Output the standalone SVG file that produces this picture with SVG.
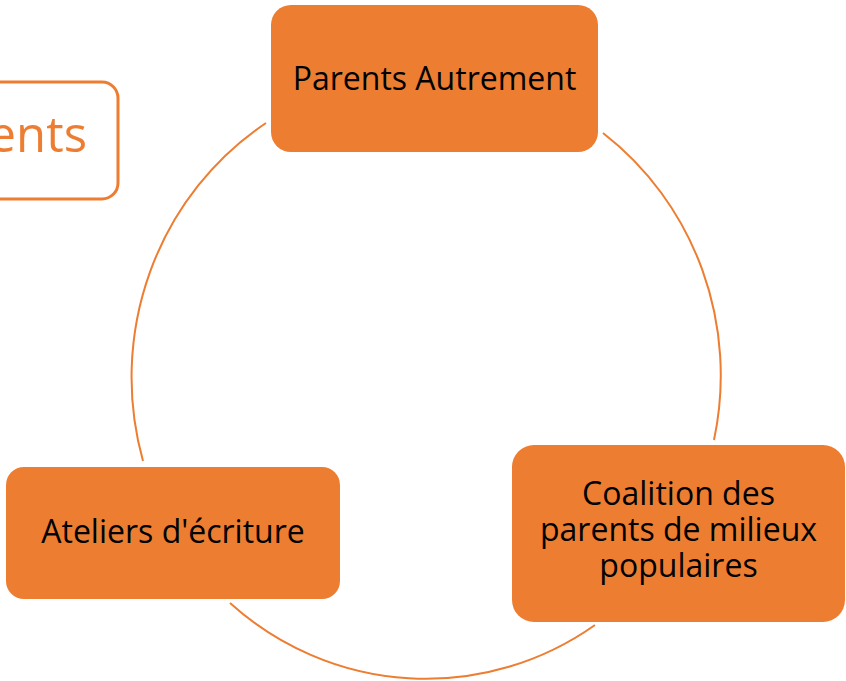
<svg xmlns="http://www.w3.org/2000/svg" width="846" height="681" viewBox="0 0 846 681">
<style>
.node{fill:#ED7D31;}
.lbl{font-family:"Open Sans",Lato,"Liberation Sans",sans-serif;font-size:32px;fill:#000;text-anchor:middle;}
.arc{fill:none;stroke:#ED7D31;stroke-width:2;}
</style>
<rect width="846" height="681" fill="#fff"/>
<g id="title">
<rect x="-40" y="82" width="158" height="117" rx="16" fill="#fff" stroke="#ED7D31" stroke-width="3"/>
<text x="87" y="152" font-family="'Open Sans',Lato,'Liberation Sans',sans-serif" font-size="49" fill="#ED7D31" text-anchor="end">ents</text>
</g>
<g id="connectors">
<path class="arc" d="M603,133 A297,304 0 0 1 714,440"/>
<path class="arc" d="M595,625 A297,304 0 0 1 230,603"/>
<path class="arc" d="M143,461 A297,304 0 0 1 266,123"/>
</g>
<g id="node-parents">
<rect class="node" x="271" y="5" width="327" height="147" rx="20"/>
<text class="lbl" x="434.5" y="90">Parents Autrement</text>
</g>
<g id="node-coalition">
<rect class="node" x="512" y="445" width="333" height="177" rx="22"/>
<text class="lbl" x="678.5" y="505">Coalition des</text>
<text class="lbl" x="678.5" y="541">parents de milieux</text>
<text class="lbl" x="678.5" y="577">populaires</text>
</g>
<g id="node-ateliers">
<rect class="node" x="6" y="467" width="334" height="132" rx="18"/>
<text class="lbl" x="173" y="543">Ateliers d'écriture</text>
</g>
</svg>
